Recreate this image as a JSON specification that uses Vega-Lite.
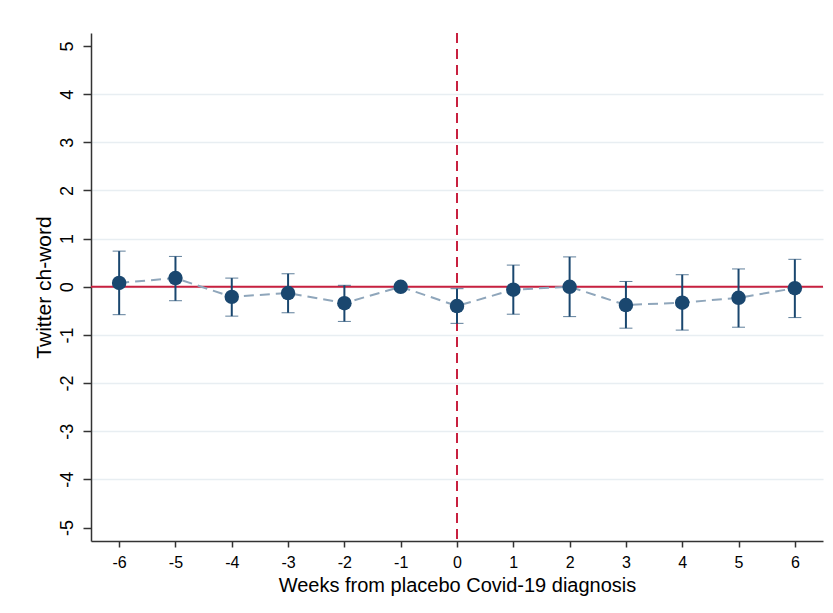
{
  "$schema": "https://vega.github.io/schema/vega-lite/v6.json",
  "autosize": "none",
  "width": 732,
  "height": 508,
  "padding": {"left": 91, "top": 33, "right": 10, "bottom": 72},
  "background": "white",
  "config": {
    "view": {"stroke": null},
    "font": "Liberation Sans",
    "axis": {"domainColor": "#333333", "tickColor": "#333333", "domainWidth": 1.5, "tickWidth": 1.5, "labelColor": "black", "titleColor": "black", "labelFont": "Liberation Sans", "titleFont": "Liberation Sans", "titleFontWeight": "normal"},
    "axisX": {"labelFontSize": 16, "titleFontSize": 20, "tickSize": 6, "labelPadding": 7, "titlePadding": 5, "grid": false},
    "axisY": {"labelFontSize": 18, "titleFontSize": 21, "tickSize": 8, "labelAngle": -90, "labelAlign": "center", "labelBaseline": "bottom", "labelPadding": 7, "titlePadding": 4}
  },
  "data": {
    "values": [
      {"week": -6, "est": 0.08, "lo": -0.58, "hi": 0.74},
      {"week": -5, "est": 0.18, "lo": -0.29, "hi": 0.63},
      {"week": -4, "est": -0.21, "lo": -0.61, "hi": 0.18},
      {"week": -3, "est": -0.13, "lo": -0.54, "hi": 0.27},
      {"week": -2, "est": -0.34, "lo": -0.72, "hi": 0.03},
      {"week": -1, "est": 0.0, "lo": null, "hi": null},
      {"week": 0, "est": -0.40, "lo": -0.76, "hi": -0.04},
      {"week": 1, "est": -0.06, "lo": -0.57, "hi": 0.45},
      {"week": 2, "est": 0.0, "lo": -0.62, "hi": 0.62},
      {"week": 3, "est": -0.38, "lo": -0.86, "hi": 0.11},
      {"week": 4, "est": -0.33, "lo": -0.90, "hi": 0.25},
      {"week": 5, "est": -0.23, "lo": -0.84, "hi": 0.37},
      {"week": 6, "est": -0.03, "lo": -0.64, "hi": 0.57}
    ]
  },
  "layer": [
    {
      "mark": {"type": "rule", "color": "#c8203f", "strokeWidth": 2},
      "data": {"values": [{"y0": 0}]},
      "encoding": {"y": {"field": "y0", "type": "quantitative", "title": "Twitter ch-word", "scale": {"domain": [-5.28, 5.27], "nice": false, "zero": false}, "axis": {"values": [-5,-4,-3,-2,-1,0,1,2,3,4,5], "labelExpr": "'' + datum.value", "grid": true, "gridColor": {"condition": {"test": "abs(datum.value) < 5", "value": "#e8eef2"}, "value": "transparent"}, "gridWidth": 1.5}}}
    },
    {
      "mark": {"type": "rule", "color": "#c8203f", "strokeWidth": 2, "strokeDash": [10, 6]},
      "data": {"values": [{"x0": 0}]},
      "encoding": {"x": {"field": "x0", "type": "quantitative", "title": "Weeks from placebo Covid-19 diagnosis", "scale": {"domain": [-6.5, 6.5], "nice": false, "zero": false}, "axis": {"values": [-6,-5,-4,-3,-2,-1,0,1,2,3,4,5,6], "labelExpr": "'' + datum.value", "grid": false}}}
    },
    {
      "mark": {"type": "line", "color": "#8fa6bb", "strokeWidth": 2, "strokeDash": [10, 6]},
      "encoding": {
        "x": {"field": "week", "type": "quantitative", "title": "Weeks from placebo Covid-19 diagnosis"},
        "y": {"field": "est", "type": "quantitative", "title": "Twitter ch-word"}
      }
    },
    {
      "transform": [{"filter": "datum.lo != null"}],
      "mark": {"type": "errorbar", "ticks": {"size": 13, "color": "#1a476f", "strokeWidth": 2}, "rule": {"color": "#1a476f", "strokeWidth": 2}},
      "encoding": {
        "x": {"field": "week", "type": "quantitative", "title": "Weeks from placebo Covid-19 diagnosis"},
        "y": {"field": "lo", "type": "quantitative", "title": "Twitter ch-word"},
        "y2": {"field": "hi"}
      }
    },
    {
      "mark": {"type": "point", "filled": true, "opacity": 1, "color": "#1a476f", "size": 210},
      "encoding": {
        "x": {"field": "week", "type": "quantitative", "title": "Weeks from placebo Covid-19 diagnosis"},
        "y": {"field": "est", "type": "quantitative", "title": "Twitter ch-word"}
      }
    }
  ]
}
